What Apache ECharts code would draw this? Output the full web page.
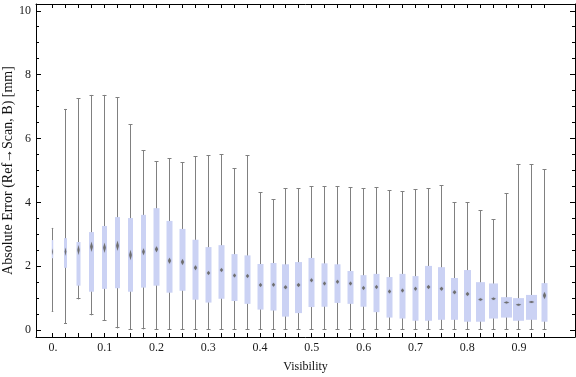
<!DOCTYPE html>
<html>
<head>
<meta charset="utf-8">
<script src="https://cdn.jsdelivr.net/npm/echarts@6/dist/echarts.min.js"></script>
<style>
  html, body { margin: 0; padding: 0; background: #fff; }
  #chart { width: 576px; height: 377px; }
</style>
</head>
<body>
<div id="chart"></div>
<script>
// visibility bins (x position of each box)
var visibility = [0, 0.025, 0.05, 0.075, 0.1, 0.125, 0.15, 0.175, 0.2, 0.225,
	0.25, 0.275, 0.3, 0.325, 0.35, 0.375, 0.4, 0.425, 0.45, 0.475,
	0.5, 0.525, 0.55, 0.575, 0.6, 0.625, 0.65, 0.675, 0.7, 0.725,
	0.75, 0.775, 0.8, 0.825, 0.85, 0.875, 0.9, 0.925, 0.95];

// box-whisker statistics [mm]
var whiskLo = [0.57, 0.19, 0.96, 0.46, 0.29, 0.05, 0, 0.02, 0, 0,
	0, 0, 0, 0, 0, 0, 0, 0, 0, 0,
	0, 0, 0, 0, 0, 0, 0, 0, 0, 0,
	0, 0, 0, 0, 0, 0, 0, 0, 0];
var q1 = [2.25, 1.95, 1.39, 1.20, 1.29, 1.31, 1.20, 1.33, 1.39, 1.17,
	1.23, 0.95, 0.86, 0.98, 0.91, 0.82, 0.64, 0.61, 0.42, 0.53,
	0.72, 0.73, 0.85, 0.82, 0.73, 0.56, 0.39, 0.36, 0.29, 0.29,
	0.32, 0.32, 0.26, 0.26, 0.36, 0.39, 0.29, 0.32, 0.26];
var median = [2.45, 2.45, 2.51, 2.61, 2.58, 2.64, 2.35, 2.45, 2.53, 2.17,
	2.13, 1.95, 1.79, 1.88, 1.71, 1.69, 1.41, 1.42, 1.34, 1.41,
	1.56, 1.46, 1.51, 1.46, 1.32, 1.35, 1.21, 1.24, 1.29, 1.35,
	1.29, 1.18, 1.13, 0.96, 0.98, 0.86, 0.79, 0.88, 1.08];
var q3 = [2.82, 2.88, 2.76, 3.07, 3.26, 3.54, 3.51, 3.61, 3.82, 3.42,
	3.17, 2.83, 2.60, 2.66, 2.38, 2.34, 2.07, 2.10, 2.06, 2.13,
	2.26, 2.09, 2.06, 1.85, 1.72, 1.76, 1.66, 1.76, 1.69, 2.01,
	1.97, 1.63, 1.88, 1.50, 1.46, 1.03, 1.00, 1.10, 1.47];
var whiskHi = [3.20, 6.93, 7.26, 7.37, 7.37, 7.29, 6.45, 5.63, 5.29, 5.38,
	5.26, 5.44, 5.48, 5.51, 5.07, 5.48, 4.32, 4.10, 4.44, 4.44,
	4.50, 4.50, 4.50, 4.47, 4.44, 4.47, 4.38, 4.35, 4.41, 4.44,
	4.54, 4.00, 4.00, 3.75, 3.47, 4.28, 5.19, 5.19, 5.04];

// axis ticks / labels
var xLabelVals = [0, 0.1, 0.2, 0.3, 0.4, 0.5, 0.6, 0.7, 0.8, 0.9];
var yMajor = [0, 2, 4, 6, 8, 10];
var yMinor = [0.5, 1, 1.5, 2.5, 3, 3.5, 4.5, 5, 5.5, 6.5, 7, 7.5, 8.5, 9, 9.5];

// drawing style: box width (px) and median marker height (px) per box
var boxW = [1.5, 3, 4, 5, 5, 5, 5, 5, 6, 6, 6, 6, 6, 6, 6, 6, 6, 6, 7, 7,
	6, 6, 6, 6, 6, 6, 6, 6, 6, 7, 7, 7, 7, 9, 9, 11, 11, 11, 6];
var markH = [7, 8, 10, 10, 10, 10, 10, 7, 6, 6, 6, 5, 4, 4, 4, 4, 4, 4, 4, 4,
	4, 4, 4, 4, 4, 4, 4, 4, 4, 4, 4, 4, 4, 2.5, 2.5, 2, 2, 2, 7];

var BOX_COLOR = '#cbd2f4';
var WHISK_COLOR = '#808080';
var FONT = 'Liberation Serif';

var xMin = -0.0328, xMax = 1.0082;
var yMin = -0.219, yMax = 10.22;

var seriesData = visibility.map(function(v, i) {
	return [v, whiskLo[i], q1[i], median[i], q3[i], whiskHi[i]];
});

function renderBox(params, api) {
	var i = params.dataIndex;
	var x = api.value(0);
	var pLo = api.coord([x, api.value(1)]);
	var pQ1 = api.coord([x, api.value(2)]);
	var pMed = api.coord([x, api.value(3)]);
	var pQ3 = api.coord([x, api.value(4)]);
	var pHi = api.coord([x, api.value(5)]);
	var cx = Math.round(pMed[0] - 0.5) + 0.5;
	var w = boxW[i];
	var cap = Math.min(w, 4) / 2;
	var mw = Math.min(w * 0.5, 5.5) / 2;
	var mh = markH[i] / 2;
	var lineStyle = { stroke: WHISK_COLOR, lineWidth: 1 };
	return {
		type: 'group',
		children: [{
			type: 'line',
			shape: { x1: cx, y1: pLo[1], x2: cx, y2: pHi[1] },
			style: lineStyle
		}, {
			type: 'line',
			shape: { x1: cx - cap, y1: Math.round(pHi[1]) + 0.5, x2: cx + cap, y2: Math.round(pHi[1]) + 0.5 },
			style: lineStyle
		}, {
			type: 'line',
			shape: { x1: cx - cap, y1: Math.round(pLo[1]) - 0.5, x2: cx + cap, y2: Math.round(pLo[1]) - 0.5 },
			style: lineStyle
		}, {
			type: 'rect',
			shape: { x: cx - w / 2, y: pQ3[1], width: w, height: pQ1[1] - pQ3[1] },
			style: { fill: BOX_COLOR }
		}, {
			type: 'polygon',
			shape: {
				points: [[cx, pMed[1] - mh], [cx + mw, pMed[1]], [cx, pMed[1] + mh], [cx - mw, pMed[1]]]
			},
			style: { fill: '#6f6f6f', shadowBlur: 1, shadowColor: 'rgba(80,80,80,0.6)' }
		}]
	};
}

// inward frame ticks: x ticks on bottom+top, y ticks on left+right
var tickStyle = { stroke: '#000', lineWidth: 1 };

function renderXTick(params, api) {
	var cs = params.coordSys;
	var p = api.coord([api.value(0), yMin]);
	var px = Math.round(p[0] - 0.5) + 0.5;
	var yb = cs.y + cs.height, yt = cs.y;
	return {
		type: 'group',
		children: [
			{ type: 'line', shape: { x1: px, y1: yb, x2: px, y2: yb - 4 }, style: tickStyle },
			{ type: 'line', shape: { x1: px, y1: yt, x2: px, y2: yt + 4 }, style: tickStyle }
		]
	};
}

function renderYTick(params, api) {
	var cs = params.coordSys;
	var v = api.value(0);
	var len = yMajor.indexOf(v) >= 0 ? 5 : 3;
	var p = api.coord([xMin, v]);
	var py = Math.round(p[1] - 0.5) + 0.5;
	var xl = cs.x, xr = cs.x + cs.width;
	return {
		type: 'group',
		children: [
			{ type: 'line', shape: { x1: xl, y1: py, x2: xl + len, y2: py }, style: tickStyle },
			{ type: 'line', shape: { x1: xr, y1: py, x2: xr - len, y2: py }, style: tickStyle }
		]
	};
}

function frameAxis(pos, min, max) {
	return {
		type: 'value',
		position: pos,
		min: min,
		max: max,
		axisLine: { show: true, onZero: false, lineStyle: { color: '#000', width: 1 } },
		splitLine: { show: false },
		axisTick: { show: false },
		axisLabel: { show: false }
	};
}

var xBottom = frameAxis('bottom', xMin, xMax);
xBottom.name = 'Visibility';
xBottom.nameLocation = 'middle';
xBottom.nameGap = 24;
xBottom.nameMoveOverlap = false;
xBottom.nameTextStyle = { fontFamily: FONT, fontSize: 12, color: '#111' };
xBottom.axisLabel = {
	show: true,
	customValues: xLabelVals,
	margin: 5,
	fontFamily: FONT,
	fontSize: 12,
	color: '#1a1a1a',
	formatter: function(v) {
		return v === 0 ? '0.' : (Math.round(v * 10) / 10).toString();
	}
};

var yLeft = frameAxis('left', yMin, yMax);
yLeft.name = 'Absolute Error (Ref\u2192Scan, B) [mm]';
yLeft.nameLocation = 'middle';
yLeft.nameGap = 21;
yLeft.nameMoveOverlap = false;
yLeft.nameTextStyle = { fontFamily: FONT, fontSize: 14, color: '#111' };
yLeft.axisLabel = { show: true, customValues: yMajor, margin: 5, fontFamily: FONT, fontSize: 12, color: '#1a1a1a' };

var chart = echarts.init(document.getElementById('chart'));

var option = {
	animation: false,
	backgroundColor: '#fff',
	grid: { left: 36, right: 1, top: 4, bottom: 40, outerBoundsMode: 'none' },
	xAxis: [xBottom, frameAxis('top', xMin, xMax)],
	yAxis: [yLeft, frameAxis('right', yMin, yMax)],
	series: [{
		type: 'custom',
		xAxisIndex: 0,
		yAxisIndex: 0,
		renderItem: renderBox,
		encode: { x: 0, y: [1, 2, 3, 4, 5] },
		data: seriesData,
		z: 1
	}, {
		type: 'custom',
		xAxisIndex: 0,
		yAxisIndex: 0,
		renderItem: renderXTick,
		encode: { x: 0 },
		data: visibility.map(function(v) { return [v]; }),
		silent: true,
		z: 3
	}, {
		type: 'custom',
		xAxisIndex: 0,
		yAxisIndex: 0,
		renderItem: renderYTick,
		encode: { y: 0 },
		data: yMajor.concat(yMinor).map(function(v) { return [v]; }),
		silent: true,
		z: 3
	}]
};

chart.setOption(option);
</script>
</body>
</html>
